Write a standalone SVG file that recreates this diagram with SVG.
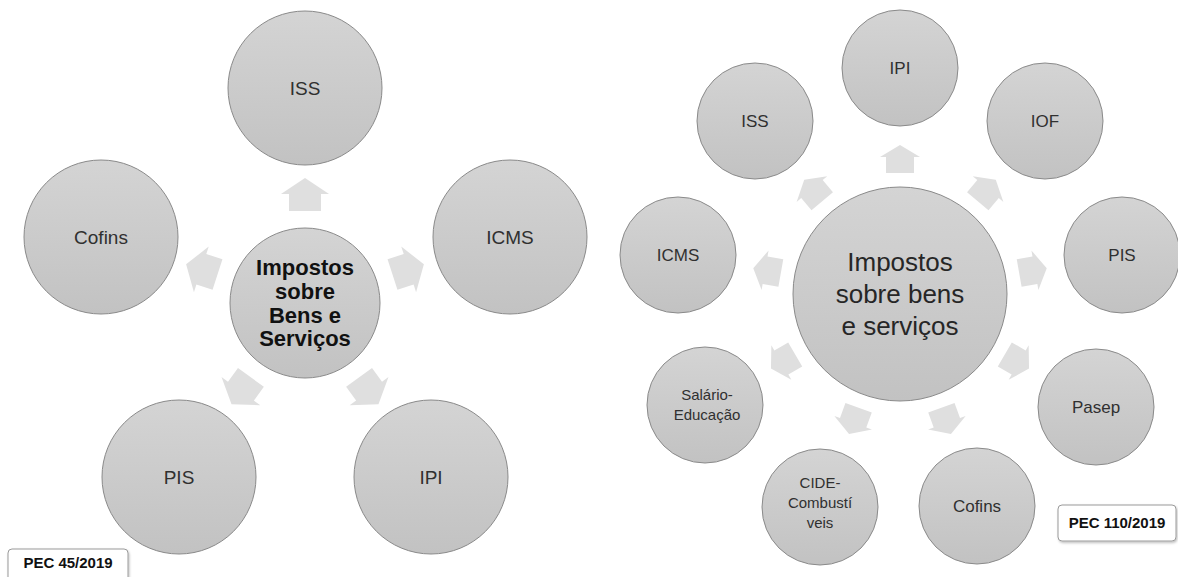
<svg xmlns="http://www.w3.org/2000/svg" width="1178" height="577" viewBox="0 0 1178 577">
<defs>
<linearGradient id="g" x1="0" y1="0" x2="0" y2="1">
<stop offset="0" stop-color="#d4d4d4"/>
<stop offset="1" stop-color="#c2c2c2"/>
</linearGradient>
<filter id="sh" x="-10%" y="-10%" width="130%" height="130%">
<feDropShadow dx="1" dy="1.5" stdDeviation="1.2" flood-color="#000" flood-opacity="0.25"/>
</filter>
<path id="aL" d="M92 -16 L109 -16 L109 -24 L125 0 L109 24 L109 16 L92 16 Z"/>
<path id="aR" d="M121 -14 L137 -14 L137 -20 L149 0 L137 20 L137 14 L121 14 Z"/>
</defs>
<style>
.n{fill:url(#g);stroke:#8a8a8a;stroke-width:1}
.t{font-family:"Liberation Sans",Arial,sans-serif;fill:#303030;text-anchor:middle}
.tl{font-size:19px}
.tr{font-size:17px}
.ts{font-size:15px}
.cb{font-family:"Liberation Sans",Arial,sans-serif;font-weight:bold;font-size:22px;fill:#111;text-anchor:middle}
.cr{font-family:"Liberation Sans",Arial,sans-serif;font-size:26px;fill:#262626;text-anchor:middle}
.a{fill:#dfdfdf}
.box{fill:#fff;stroke:#9a9a9a;stroke-width:1}
.bt{font-family:"Liberation Sans",Arial,sans-serif;font-weight:bold;font-size:15px;fill:#111;text-anchor:middle}
</style>
<rect width="1178" height="577" fill="#fff"/>

<g id="connectors">
<g transform="translate(305,303)">
<use href="#aL" class="a" transform="rotate(-90)"/>
<use href="#aL" class="a" transform="rotate(-18)"/>
<use href="#aL" class="a" transform="rotate(54)"/>
<use href="#aL" class="a" transform="rotate(126)"/>
<use href="#aL" class="a" transform="rotate(198)"/>
</g>
<g transform="translate(900,294)">
<use href="#aR" class="a" transform="rotate(-90)"/>
<use href="#aR" class="a" transform="rotate(-50)"/>
<use href="#aR" class="a" transform="rotate(-10)"/>
<use href="#aR" class="a" transform="rotate(30)"/>
<use href="#aR" class="a" transform="rotate(70)"/>
<use href="#aR" class="a" transform="rotate(110)"/>
<use href="#aR" class="a" transform="rotate(150)"/>
<use href="#aR" class="a" transform="rotate(190)"/>
<use href="#aR" class="a" transform="rotate(230)"/>
</g>
</g>

<!-- Left diagram: PEC 45/2019 -->
<g id="l-center"><circle class="n" cx="305" cy="303" r="75"/>
<text class="cb"><tspan x="305" y="275">Impostos</tspan><tspan x="305" y="299">sobre</tspan><tspan x="305" y="323">Bens e</tspan><tspan x="305" y="346">Serviços</tspan></text></g>
<g id="l-iss"><circle class="n" cx="305" cy="88" r="77"/><text class="t tl" x="305" y="95">ISS</text></g>
<g id="l-icms"><circle class="n" cx="510" cy="237" r="77"/><text class="t tl" x="510" y="244">ICMS</text></g>
<g id="l-ipi"><circle class="n" cx="431" cy="477" r="77"/><text class="t tl" x="431" y="484">IPI</text></g>
<g id="l-pis"><circle class="n" cx="179" cy="477" r="77"/><text class="t tl" x="179" y="484">PIS</text></g>
<g id="l-cofins"><circle class="n" cx="101" cy="237" r="77"/><text class="t tl" x="101" y="244">Cofins</text></g>
<g id="l-label"><rect class="box" x="8" y="549" width="120" height="34" rx="4" filter="url(#sh)"/><text class="bt" x="68" y="568">PEC 45/2019</text></g>

<!-- Right diagram: PEC 110/2019 -->
<g id="r-center"><circle class="n" cx="900" cy="294" r="107"/>
<text class="cr"><tspan x="900" y="271">Impostos</tspan><tspan x="900" y="303">sobre bens</tspan><tspan x="900" y="335">e serviços</tspan></text></g>
<g id="r-ipi"><circle class="n" cx="900" cy="68" r="58"/><text class="t tr" x="900" y="74">IPI</text></g>
<g id="r-iof"><circle class="n" cx="1045" cy="121" r="58"/><text class="t tr" x="1045" y="127">IOF</text></g>
<g id="r-pis"><circle class="n" cx="1122" cy="255" r="58"/><text class="t tr" x="1122" y="261">PIS</text></g>
<g id="r-pasep"><circle class="n" cx="1096" cy="407" r="58"/><text class="t tr" x="1096" y="413">Pasep</text></g>
<g id="r-cofins"><circle class="n" cx="977" cy="506" r="58"/><text class="t tr" x="977" y="512">Cofins</text></g>
<g id="r-cide"><circle class="n" cx="820" cy="507" r="58"/><text class="t ts"><tspan x="820" y="488">CIDE-</tspan><tspan x="820" y="508">Combustí</tspan><tspan x="820" y="528">veis</tspan></text></g>
<g id="r-salario"><circle class="n" cx="705" cy="405" r="58"/><text class="t ts"><tspan x="707" y="400">Salário-</tspan><tspan x="707" y="420">Educação</tspan></text></g>
<g id="r-icms"><circle class="n" cx="678" cy="255" r="58"/><text class="t tr" x="678" y="261">ICMS</text></g>
<g id="r-iss"><circle class="n" cx="755" cy="121" r="58"/><text class="t tr" x="755" y="127">ISS</text></g>
<g id="r-label"><rect class="box" x="1058" y="505" width="118" height="36" rx="4" filter="url(#sh)"/><text class="bt" x="1117" y="528">PEC 110/2019</text></g>
</svg>
